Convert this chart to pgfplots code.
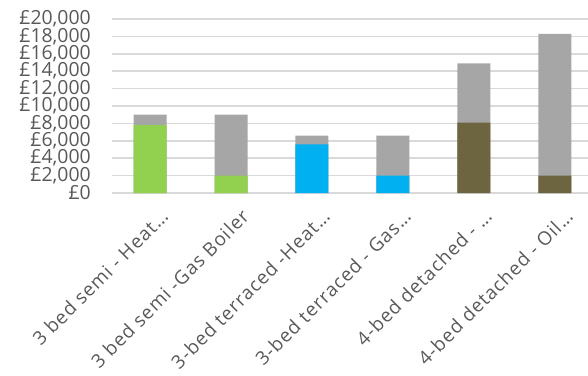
\documentclass[border=0pt]{standalone}
\usepackage{fontspec}
\setmainfont{Open Sans}
\usepackage{pgfplots}
\pgfplotsset{compat=1.18}
\definecolor{tc}{HTML}{595959}
\definecolor{gridc}{HTML}{D9D9D9}
\definecolor{cgreen}{HTML}{92D050}
\definecolor{cblue}{HTML}{00B0F0}
\definecolor{cbrown}{HTML}{6D6440}
\definecolor{cgray}{HTML}{A6A6A6}
\newcommand{\dd}{.\kern0pt.\kern0pt.}
\newfontfamily\lblfont[LetterSpace=5]{Open Sans}
\begin{document}
\begin{tikzpicture}
\begin{axis}[
  at={(0,0)}, anchor=south west,
  scale only axis, width=476bp, height=174bp,
  xmin=-0.47, xmax=5.41, ymin=0, ymax=20000,
  axis line style={draw=none},
  ytick={0,2000,4000,6000,8000,10000,12000,14000,16000,18000,20000},
  ymajorgrids, grid style={color=gridc, line width=1.5bp},
  major tick length=0pt,
  scaled y ticks=false,
  xtick={0,1,2,3,4,5},
  xticklabels={{3 bed semi - Heat\dd},{3 bed semi -Gas Boiler},{3-bed terraced -Heat\dd},{3-bed terraced - Gas\dd},{4-bed detached - \dd},{4-bed detached - Oil\dd}},
  xticklabel style={rotate=45, anchor=north east, font=\lblfont\fontsize{19}{19}\selectfont, text=tc, inner sep=0pt, xshift=-4bp, yshift=-17bp},
  yticklabel style={font=\fontsize{19.5}{19.5}\selectfont, text=tc, inner sep=0pt, xshift=-21bp},
  yticklabel={£\pgfmathprintnumber{\tick}},
  /pgf/number format/1000 sep={,},
  /pgf/number format/assume math mode=true,
]
% totals (grey segment on top)
\addplot[ybar, bar width=33bp, bar shift=0pt, fill=cgray, draw=none] coordinates {(0,9000) (1,9000) (2,6600) (3,6600) (4,14900) (5,18300)};
% lower segments
\addplot[ybar, bar width=33bp, bar shift=0pt, fill=cgreen, draw=none] coordinates {(0,7800) (1,2000)};
\addplot[ybar, bar width=33bp, bar shift=0pt, fill=cblue, draw=none] coordinates {(2,5600) (3,2000)};
\addplot[ybar, bar width=33bp, bar shift=0pt, fill=cbrown, draw=none] coordinates {(4,8100) (5,2000)};
\end{axis}
\pgfresetboundingbox
\path[use as bounding box] (-112bp,-183bp) rectangle (476bp,193bp);
\end{tikzpicture}
\end{document}
